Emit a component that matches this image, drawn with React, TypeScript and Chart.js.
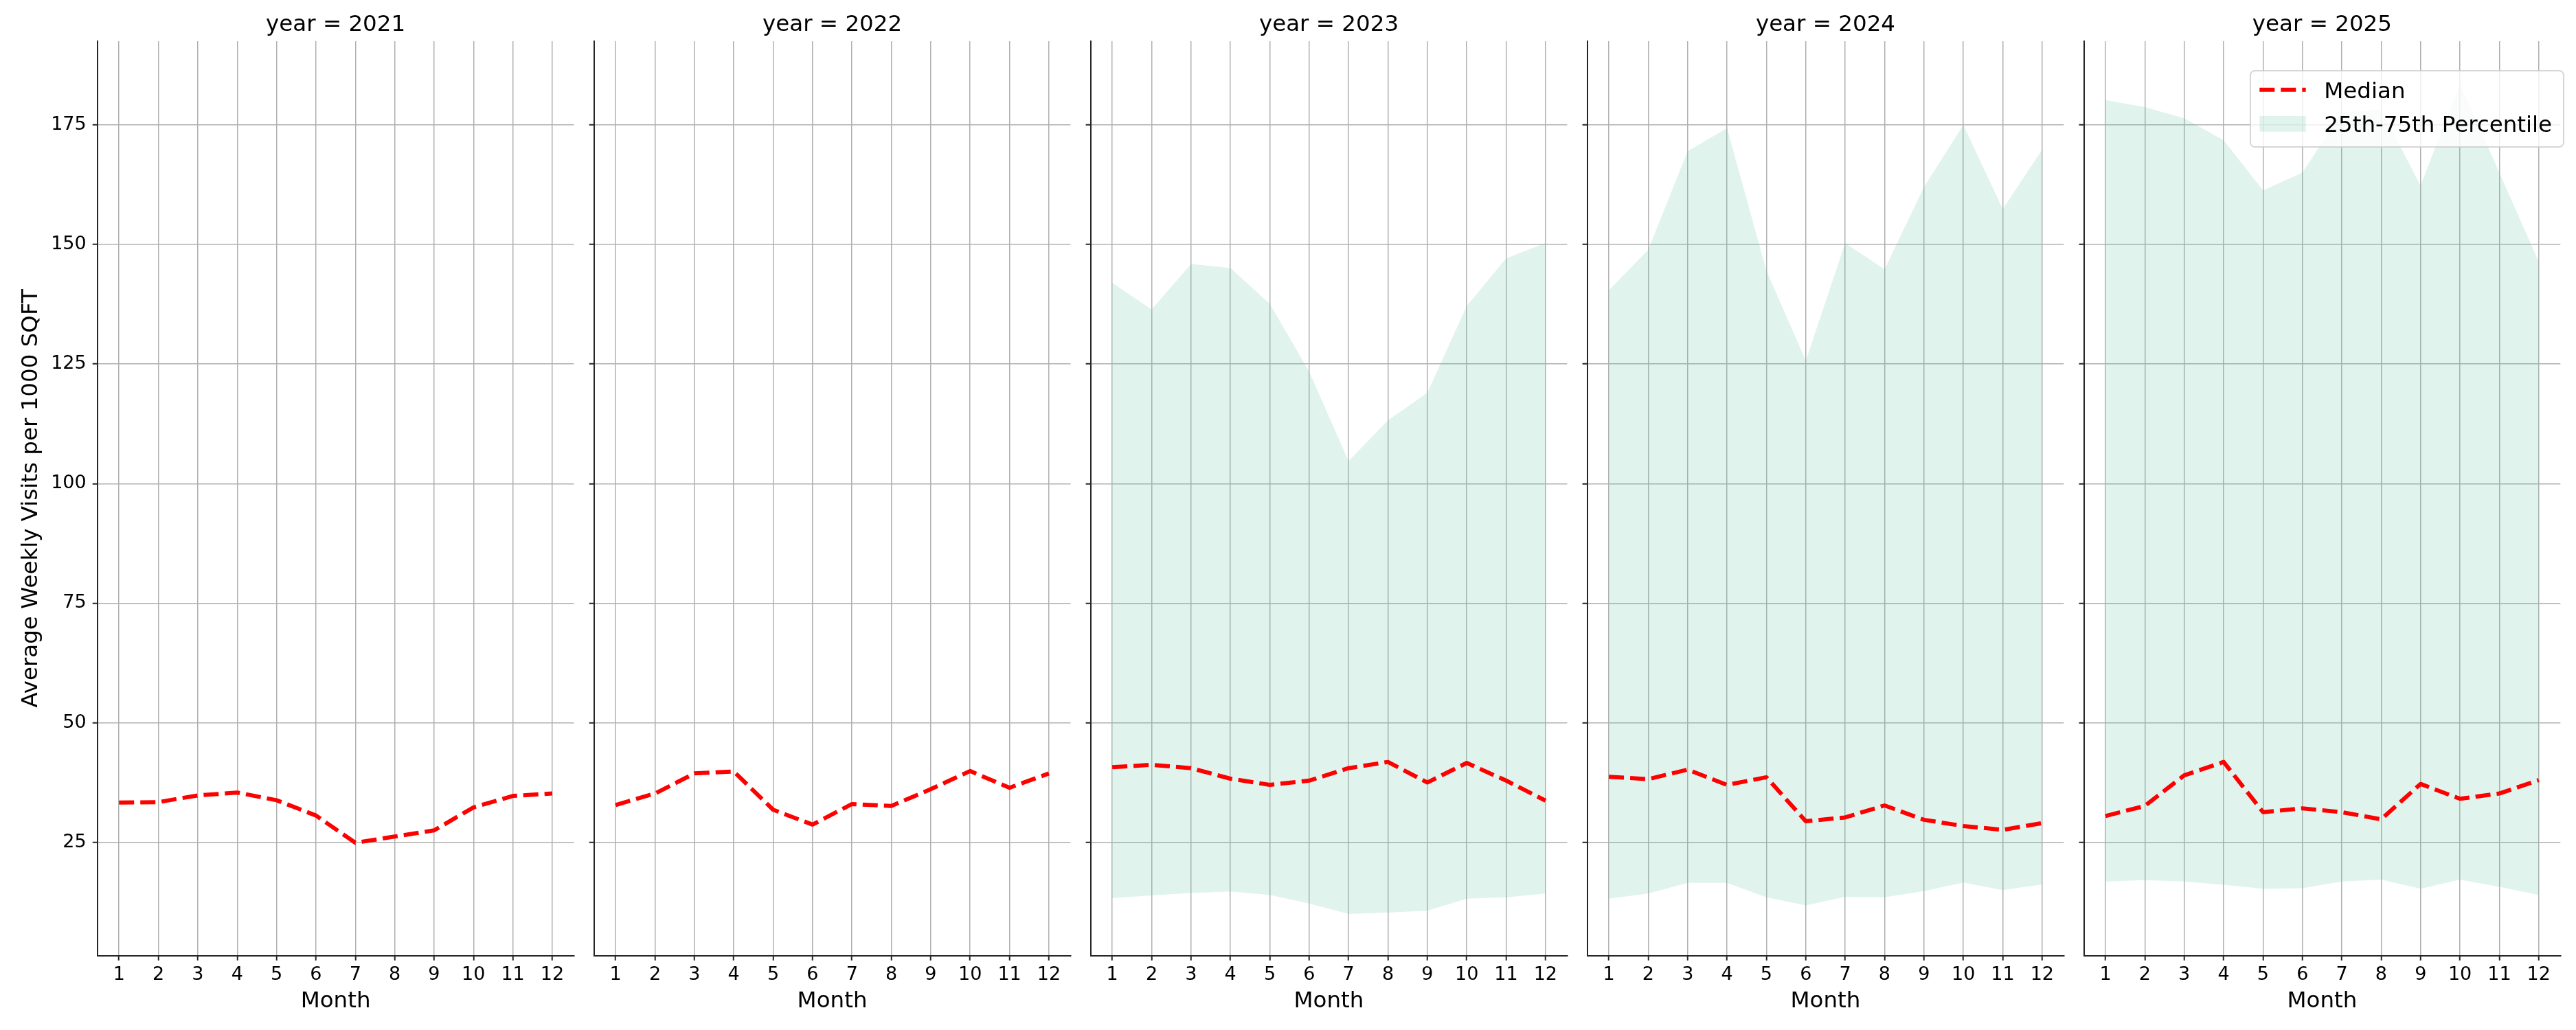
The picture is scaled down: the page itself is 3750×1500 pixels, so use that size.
import React, { useEffect, useRef } from "react";
import { Chart, registerables } from "chart.js";

Chart.register(...registerables);

// ---------------- data ----------------
const months = [1, 2, 3, 4, 5, 6, 7, 8, 9, 10, 11, 12];
const years = ["2021", "2022", "2023", "2024", "2025"];
const yTicks = [25, 50, 75, 100, 125, 150, 175];
const legendLabels = ["Median", "25th-75th Percentile"];

const median2021 = [33.3, 33.4, 34.8, 35.4, 33.8, 30.6, 24.9, 26.2, 27.5, 32.3, 34.7, 35.2];
const median2022 = [32.8, 35.2, 39.4, 39.8, 31.8, 28.7, 33.0, 32.6, 36.1, 39.9, 36.4, 39.4];
const median2023 = [40.7, 41.2, 40.5, 38.3, 37.0, 37.9, 40.5, 41.8, 37.5, 41.6, 37.9, 33.7];
const median2024 = [38.7, 38.2, 40.2, 37.0, 38.6, 29.4, 30.2, 32.7, 29.7, 28.4, 27.6, 29.0];
const median2025 = [30.5, 32.6, 39.0, 41.8, 31.3, 32.1, 31.3, 29.8, 37.2, 34.1, 35.2, 38.0];

const p25_2023 = [13.3, 13.9, 14.4, 14.7, 14.0, 12.2, 10.0, 10.3, 10.7, 13.2, 13.5, 14.3];
const p75_2023 = [142.0, 136.4, 145.9, 145.1, 137.6, 123.4, 104.7, 113.2, 119.0, 137.1, 147.1, 150.3];
const p25_2024 = [13.2, 14.3, 16.5, 16.5, 13.5, 11.8, 13.6, 13.5, 14.8, 16.6, 15.0, 16.2];
const p75_2024 = [140.4, 148.9, 169.5, 174.3, 144.5, 125.7, 150.3, 144.8, 162.0, 175.0, 157.4, 169.8];
const p25_2025 = [16.8, 17.1, 16.8, 16.1, 15.3, 15.4, 16.8, 17.2, 15.3, 17.2, 15.7, 14.0];
const p75_2025 = [180.2, 178.7, 176.4, 171.8, 161.3, 165.0, 177.6, 178.1, 162.3, 183.6, 165.0, 146.4];

const medians = [median2021, median2022, median2023, median2024, median2025];
const p25s: (number[] | null)[] = [null, null, p25_2023, p25_2024, p25_2025];
const p75s: (number[] | null)[] = [null, null, p75_2023, p75_2024, p75_2025];

// ---------------- layout / style ----------------
const FIG_W = 3750;
const FIG_H = 1500;
const AX_LEFT0 = 141.7;
const AX_PITCH = 722.95;
const AX_W = 693.8;
const AX_BOTTOM = 1391.7;
const Y_MIN = 1.3;
const Y_MAX = 192.5;
const X_MIN = 0.45;
const X_MAX = 12.55;

const GRID = "#b0b0b0";
const SPINE = "#262626";
const BAND = "rgba(102,194,165,0.2)";
const RED = "#ff0000";
const FONT = "'DejaVu Sans', sans-serif";
const TICK_SIZE = 27;
const LABEL_SIZE = 32.5;

Chart.defaults.font.family = FONT;
Chart.defaults.color = "#000";

const geoms = years.map((_, i) => {
  const axL = AX_LEFT0 + i * AX_PITCH;
  const left = i === 0 ? 0 : Math.floor(axL - 20);
  const right = i === years.length - 1 ? FIG_W : Math.ceil(axL + AX_W + 12);
  return { left, w: right - left, yW: axL - left, padR: right - (axL + AX_W) };
});

const pts = (arr: number[]) => arr.map((v, k) => ({ x: months[k], y: v }));

const legendPlugin = {
  id: "facetLegend",
  afterDraw(chart: any) {
    const { ctx, chartArea } = chart;
    const w = 456;
    const h = 111;
    const right = chartArea.right + 4.7;
    const top = chartArea.top + 43;
    const left = right - w;
    const r = 6.5;
    ctx.save();
    ctx.beginPath();
    ctx.moveTo(left + r, top);
    ctx.lineTo(right - r, top);
    ctx.arcTo(right, top, right, top + r, r);
    ctx.lineTo(right, top + h - r);
    ctx.arcTo(right, top + h, right - r, top + h, r);
    ctx.lineTo(left + r, top + h);
    ctx.arcTo(left, top + h, left, top + h - r, r);
    ctx.lineTo(left, top + r);
    ctx.arcTo(left, top, left + r, top, r);
    ctx.closePath();
    ctx.fillStyle = "rgba(255,255,255,0.8)";
    ctx.fill();
    ctx.strokeStyle = "rgba(204,204,204,0.8)";
    ctx.lineWidth = 2;
    ctx.stroke();

    // median handle
    ctx.beginPath();
    ctx.strokeStyle = RED;
    ctx.lineWidth = 6;
    ctx.lineCap = "butt";
    ctx.setLineDash([22, 9]);
    ctx.moveTo(left + 13.3, top + 27.7);
    ctx.lineTo(left + 80.7, top + 27.7);
    ctx.stroke();
    ctx.setLineDash([]);

    // band handle
    ctx.fillStyle = BAND;
    ctx.fillRect(left + 13.3, top + 66, 67.4, 22.7);

    ctx.fillStyle = "#000";
    ctx.font = `${LABEL_SIZE}px ${FONT}`;
    ctx.textAlign = "left";
    ctx.textBaseline = "alphabetic";
    ctx.fillText(legendLabels[0], left + 107.3, top + 39.7);
    ctx.fillText(legendLabels[1], left + 107.3, top + 89);
    ctx.restore();
  },
};

function makeConfig(i: number): any {
  const g = geoms[i];
  const datasets: any[] = [
    {
      label: legendLabels[0],
      data: pts(medians[i]),
      borderColor: RED,
      borderWidth: 6,
      borderDash: [22, 9],
      borderCapStyle: "butt",
      borderJoinStyle: "round",
      pointRadius: 0,
      fill: false,
      tension: 0,
    },
  ];
  const lo = p25s[i];
  const hi = p75s[i];
  if (lo && hi) {
    datasets.push({
      label: "p25",
      data: pts(lo),
      borderColor: "rgba(0,0,0,0)",
      borderWidth: 0,
      pointRadius: 0,
      fill: false,
    });
    datasets.push({
      label: legendLabels[1],
      data: pts(hi),
      borderColor: "rgba(0,0,0,0)",
      borderWidth: 0,
      pointRadius: 0,
      fill: 1,
      backgroundColor: BAND,
    });
  }

  const gridOpts = {
    color: GRID,
    lineWidth: 1.5,
    drawTicks: true,
    tickLength: 7,
    tickColor: SPINE,
    tickWidth: 2,
  };
  const borderOpts = { display: true, color: SPINE, width: 2 };

  return {
    type: "line",
    data: { datasets },
    plugins: i === years.length - 1 ? [legendPlugin] : [],
    options: {
      animation: false,
      responsive: false,
      maintainAspectRatio: false,
      devicePixelRatio: 1,
      events: [],
      layout: { padding: { left: 0, right: g.padR, top: 0, bottom: 0 } },
      plugins: {
        legend: { display: false },
        tooltip: { enabled: false },
        title: {
          display: true,
          text: `year = ${years[i]}`,
          fullSize: false,
          color: "#000",
          font: { family: FONT, size: LABEL_SIZE, weight: "normal" },
          padding: { top: 17.5, bottom: 3.5 },
        },
      },
      scales: {
        x: {
          type: "linear",
          min: X_MIN,
          max: X_MAX,
          afterBuildTicks: (s: any) => {
            s.ticks = months.map((v) => ({ value: v }));
          },
          afterFit: (s: any) => {
            s.height = FIG_H - AX_BOTTOM;
          },
          grid: gridOpts,
          border: borderOpts,
          ticks: {
            color: "#000",
            font: { family: FONT, size: TICK_SIZE },
            padding: 5,
            maxRotation: 0,
            autoSkip: false,
            callback: (v: any) => String(v),
          },
          title: {
            display: true,
            text: "Month",
            color: "#000",
            font: { family: FONT, size: LABEL_SIZE },
            padding: { top: 0, bottom: 21.7 },
          },
        },
        y: {
          type: "linear",
          min: Y_MIN,
          max: Y_MAX,
          afterBuildTicks: (s: any) => {
            s.ticks = yTicks.map((v) => ({ value: v }));
          },
          afterFit: (s: any) => {
            s.width = g.yW;
          },
          grid: gridOpts,
          border: borderOpts,
          ticks: {
            color: "#000",
            font: { family: FONT, size: TICK_SIZE },
            padding: 9,
            autoSkip: false,
            callback: i === 0 ? (v: any) => String(v) : () => "",
          },
          title:
            i === 0
              ? {
                  display: true,
                  text: "Average Weekly Visits per 1000 SQFT",
                  color: "#000",
                  font: { family: FONT, size: LABEL_SIZE },
                  padding: { top: 26, bottom: 0 },
                }
              : { display: false },
        },
      },
    },
  };
}

export default function App() {
  const refs = useRef<(HTMLCanvasElement | null)[]>([]);

  useEffect(() => {
    const charts = years.map((_, i) => new Chart(refs.current[i] as HTMLCanvasElement, makeConfig(i)));
    return () => {
      charts.forEach((c) => c.destroy());
    };
  }, []);

  return (
    <div
      style={{
        position: "absolute",
        left: 0,
        top: 0,
        width: FIG_W,
        height: FIG_H,
        background: "#fff",
        overflow: "hidden",
      }}
    >
      {geoms.map((g, i) => (
        <canvas
          key={years[i]}
          ref={(el) => {
            refs.current[i] = el;
          }}
          width={g.w}
          height={FIG_H}
          style={{ position: "absolute", left: g.left, top: 0, width: g.w, height: FIG_H }}
        />
      ))}
    </div>
  );
}
